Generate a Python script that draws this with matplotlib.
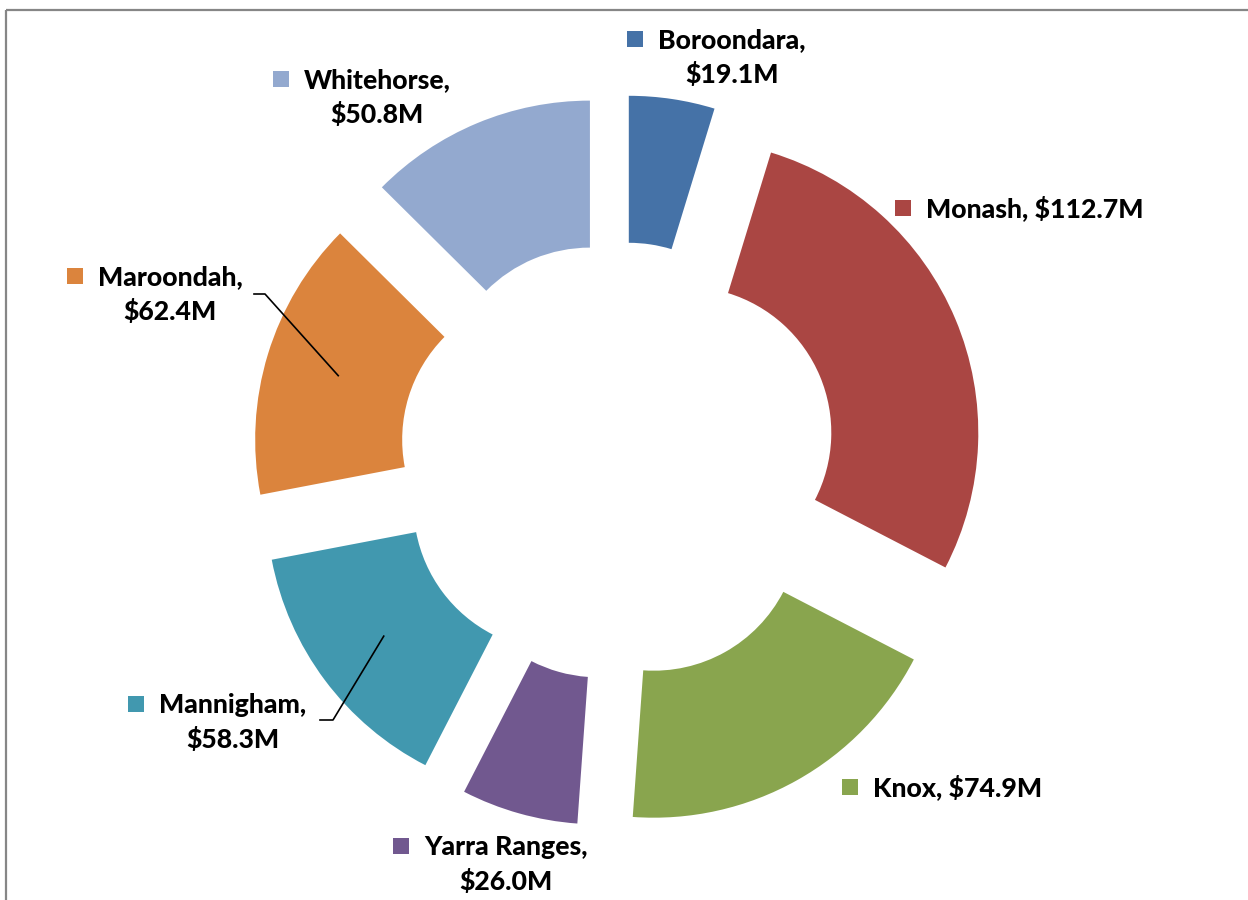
import numpy as np
import matplotlib
matplotlib.use("Agg")
import matplotlib.pyplot as plt
from matplotlib.patches import Rectangle

# ---- data ----
councils = ["Boroondara", "Monash", "Knox", "Yarra Ranges", "Mannigham", "Maroondah", "Whitehorse"]
spend_m = [19.1, 112.7, 74.9, 26.0, 58.3, 62.4, 50.8]
colors = ["#4572A7", "#AA4643", "#89A54E", "#71588F", "#4198AF", "#DB843D", "#93A9CF"]

# ---- layout (pixel coords, y measured from top) ----
W, H = 1248, 900
CX, CY = 618, 461
R_OUT, R_IN = 293, 146
EXPLODE = 73
# label: (text centre x, first-line baseline y, split into two lines)
label_layout = [
    (732, 48, True),
    (1035, 217, False),
    (958, 796, False),
    (506, 855, True),
    (233, 713, True),
    (170, 285, True),
    (377, 88, True),
]
# leader lines: index -> start point (pixel)
leaders = {5: [(254, 294), (265, 294)], 4: [(320, 720), (333, 720)]}

FONT = ["Lato", "DejaVu Sans"]
WEIGHT = 900

fig = plt.figure(figsize=(W / 100, H / 100), dpi=100)
ax = fig.add_axes([0, 0, 1, 1])

def py(y):
    return H - y

wedges, _ = ax.pie(
    spend_m, colors=colors, radius=R_OUT, center=(CX, py(CY)),
    startangle=90, counterclock=False, explode=[EXPLODE] * len(spend_m),
    wedgeprops=dict(width=R_OUT - R_IN, linewidth=0), frame=True,
)
ax.set_xlim(0, W)
ax.set_ylim(0, H)
ax.set_aspect("equal")
ax.axis("off")

# frame (top and left visible; extends past the image edge)
ax.plot([6, W + 10], [py(10), py(10)], color="#868686", lw=1.6, solid_capstyle="butt", clip_on=False)
ax.plot([6, 6], [py(10), -10], color="#868686", lw=1.6, solid_capstyle="butt", clip_on=False)

# calibrate font size so that "Boroondara," spans ~148 px
renderer = fig.canvas.get_renderer()
t = ax.text(0, 0, "Boroondara,", fontsize=18, fontweight=WEIGHT, family=FONT)
w = t.get_window_extent(renderer).width
t.remove()
fs = 18 * 148 / w

total = sum(spend_m)
cum = 0.0
for i, (name, v) in enumerate(zip(councils, spend_m)):
    x0, yb, split = label_layout[i]
    if split:
        lines = [f"{name},", f"${v:.1f}M"]
    else:
        lines = [f"{name}, ${v:.1f}M"]
    first = None
    for k, ln in enumerate(lines):
        tt = ax.text(x0, py(yb + 35 * k), ln, ha="center", va="baseline",
                     fontsize=fs, fontweight=WEIGHT, family=FONT, color="black")
        if k == 0:
            first = tt
    bb = first.get_window_extent(renderer)
    left = bb.x0
    ax.add_patch(Rectangle((left - 31, py(yb - 1)), 16, 16, color=colors[i], lw=0))

    # leader lines to wedge mid-point
    ang_start = 90 - 360 * cum / total
    ang_mid = np.deg2rad(ang_start - 180 * v / total)
    cum += v
    if i in leaders:
        ox = CX + EXPLODE * np.cos(ang_mid)
        oy = py(CY) + EXPLODE * np.sin(ang_mid)
        rm = (R_OUT + R_IN) / 2
        mx = ox + rm * np.cos(ang_mid)
        my = oy + rm * np.sin(ang_mid)
        pts = leaders[i]
        xs = [p[0] for p in pts] + [mx]
        ys = [py(p[1]) for p in pts] + [my]
        ax.plot(xs, ys, color="black", lw=1.2)

fig.savefig("out.png", dpi=100)
